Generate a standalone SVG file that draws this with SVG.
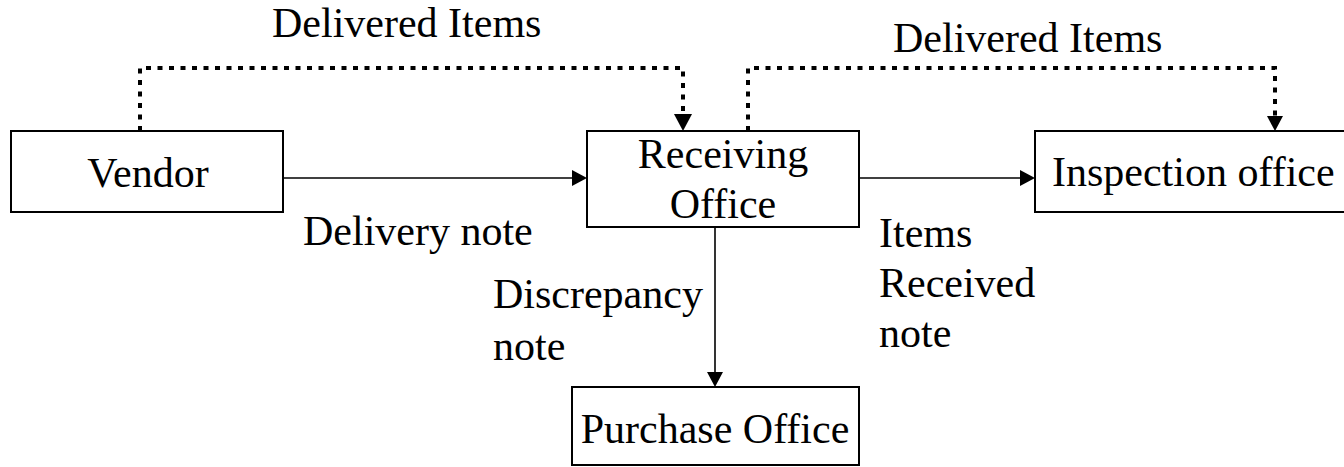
<svg xmlns="http://www.w3.org/2000/svg" width="1344" height="467" viewBox="0 0 1344 467">
  <style>
    .box { fill: #ffffff; stroke: #000000; stroke-width: 2; }
    .lbl { font-family: "Liberation Serif", "Times New Roman", serif; font-size: 42px; fill: #000000; }
    .mid { text-anchor: middle; }
    .flow { fill: none; stroke: #000000; stroke-width: 1.6; }
    .goods { fill: none; stroke: #000000; stroke-width: 4; stroke-dasharray: 5 6.5; stroke-linejoin: miter; }
  </style>
  <defs>
    <marker id="arrow" viewBox="0 0 15 16" refX="0" refY="8" markerWidth="15" markerHeight="16" markerUnits="userSpaceOnUse" orient="auto">
      <path d="M0,0 L15,8 L0,16 z" fill="#000000"/>
    </marker>
    <marker id="arrow-big" viewBox="0 0 17 18" refX="0" refY="9" markerWidth="17" markerHeight="18" markerUnits="userSpaceOnUse" orient="auto">
      <path d="M0,0 L17,9 L0,18 z" fill="#000000"/>
    </marker>
  </defs>

  <!-- connectors -->
  <g id="connectors">
    <path class="goods" d="M140,131 V68 H683 V114" marker-end="url(#arrow-big)"/>
    <path class="goods" d="M748,131 V68 H1275 V116" marker-end="url(#arrow)"/>
    <line class="flow" x1="283" y1="178" x2="572" y2="178" marker-end="url(#arrow)"/>
    <line class="flow" x1="859" y1="178" x2="1020" y2="178" marker-end="url(#arrow)"/>
    <line class="flow" x1="715" y1="227" x2="715" y2="372" marker-end="url(#arrow)"/>
  </g>

  <!-- connector labels -->
  <g id="labels">
    <text class="lbl" x="272" y="37">Delivered Items</text>
    <text class="lbl" x="893" y="52">Delivered Items</text>
    <text class="lbl" x="303" y="245">Delivery note</text>
    <text class="lbl" x="493" y="308">Discrepancy</text>
    <text class="lbl" x="493" y="360">note</text>
    <text class="lbl" x="879" y="247">Items</text>
    <text class="lbl" x="879" y="297">Received</text>
    <text class="lbl" x="879" y="347">note</text>
  </g>

  <g id="vendor">
    <rect class="box" x="11" y="131" width="272" height="81"/>
    <text class="lbl mid" x="148" y="187">Vendor</text>
  </g>

  <g id="receiving-office">
    <rect class="box" x="587" y="131" width="272" height="96"/>
    <text class="lbl mid" x="723" y="168">Receiving</text>
    <text class="lbl mid" x="723" y="218">Office</text>
  </g>

  <g id="inspection-office">
    <rect class="box" x="1035" y="131" width="320" height="81"/>
    <text class="lbl" x="1052" y="186">Inspection office</text>
  </g>

  <g id="purchase-office">
    <rect class="box" x="572" y="387" width="287" height="78"/>
    <text class="lbl mid" x="715" y="443">Purchase Office</text>
  </g>
</svg>
